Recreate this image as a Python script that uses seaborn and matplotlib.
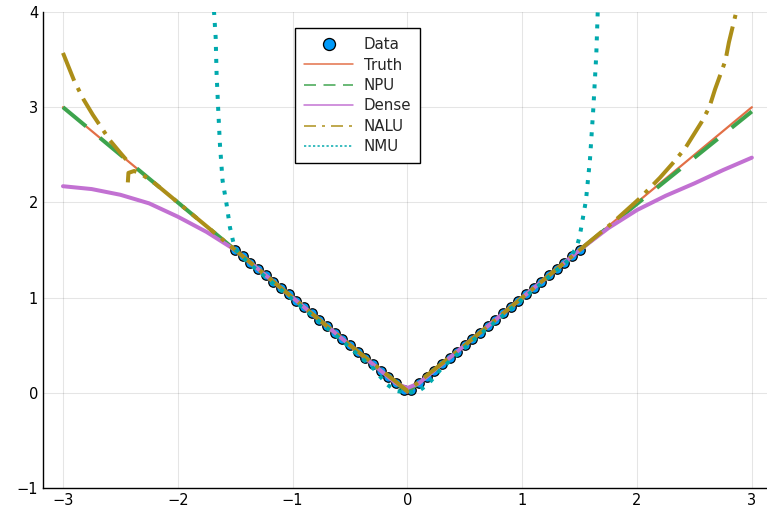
import numpy as np
import pandas as pd
import matplotlib
matplotlib.use("Agg")
import matplotlib.pyplot as plt
from matplotlib.lines import Line2D
import seaborn as sns

# ---------------- data ----------------
data_x = [-1.5, -1.4333, -1.3667, -1.3, -1.2333, -1.1667, -1.1, -1.0333, -0.9667, -0.9,
          -0.8333, -0.7667, -0.7, -0.6333, -0.5667, -0.5, -0.4333, -0.3667, -0.3, -0.2333,
          -0.1667, -0.1, -0.0333, 0.0333, 0.1, 0.1667, 0.2333, 0.3, 0.3667, 0.4333,
          0.5, 0.5667, 0.6333, 0.7, 0.7667, 0.8333, 0.9, 0.9667, 1.0333, 1.1,
          1.1667, 1.2333, 1.3, 1.3667, 1.4333, 1.5]
data_y = [1.5, 1.4333, 1.3667, 1.3, 1.2333, 1.1667, 1.1, 1.0333, 0.9667, 0.9,
          0.8333, 0.7667, 0.7, 0.6333, 0.5667, 0.5, 0.4333, 0.3667, 0.3, 0.2333,
          0.1667, 0.1, 0.0333, 0.0333, 0.1, 0.1667, 0.2333, 0.3, 0.3667, 0.4333,
          0.5, 0.5667, 0.6333, 0.7, 0.7667, 0.8333, 0.9, 0.9667, 1.0333, 1.1,
          1.1667, 1.2333, 1.3, 1.3667, 1.4333, 1.5]

truth_x = [-3.0, 0.0, 3.0]
truth_y = [3.0, 0.0, 3.0]

npu_x = [-3.0, -2.5, -2.0, -1.5, -1.0, -0.5, -0.1, 0.0, 0.1, 0.5, 1.0, 1.5, 2.0, 2.5, 3.0]
npu_y = [3.0, 2.5, 2.0, 1.5, 1.0, 0.5, 0.1, 0.02, 0.1, 0.5, 1.0, 1.5, 1.985, 2.47, 2.955]

dense_x = [-3.0, -2.75, -2.5, -2.25, -2.0, -1.75, -1.5, -1.0, -0.5, -0.2, -0.1, 0.0,
           0.1, 0.2, 0.5, 1.0, 1.5, 1.75, 2.0, 2.25, 2.5, 2.75, 3.0]
dense_y = [2.17, 2.14, 2.08, 1.99, 1.85, 1.69, 1.5, 1.0, 0.5, 0.2, 0.1, 0.05,
           0.1, 0.2, 0.5, 1.0, 1.5, 1.73, 1.92, 2.07, 2.2, 2.34, 2.47]

nalu_left_x = [-3.0, -2.9, -2.82, -2.74, -2.59, -2.5, -2.45]
nalu_left_y = [3.57, 3.27, 3.08, 2.92, 2.65, 2.52, 2.45]
nalu_x = [-2.435, -2.43, -2.38, -2.32, -2.2, -2.0, -1.5, -1.0, -0.5, 0.0, 0.5, 1.0,
          1.5, 1.8, 2.03, 2.2, 2.31, 2.42, 2.56, 2.63, 2.68, 2.77, 2.8, 2.86, 2.9]
nalu_y = [2.21, 2.31, 2.33, 2.3, 2.2, 2.0, 1.5, 1.0, 0.5, 0.02, 0.5, 1.0,
          1.5, 1.8, 2.05, 2.26, 2.41, 2.57, 2.84, 3.0, 3.19, 3.49, 3.68, 3.98, 4.2]

nmu_x = [-1.70, -1.67, -1.662, -1.648, -1.633, -1.61, -1.575, -1.546, -1.52, -1.5, -1.4,
         -1.0, -0.6, -0.3, -0.18, -0.1, 0.0, 0.1, 0.18, 0.3, 0.6, 1.0, 1.4,
         1.474, 1.50, 1.555, 1.59, 1.62, 1.645, 1.657, 1.67]
nmu_y = [4.3, 3.73, 3.35, 2.98, 2.61, 2.23, 1.98, 1.74, 1.6, 1.51, 1.38,
         0.98, 0.58, 0.26, 0.09, 0.02, 0.0, 0.02, 0.09, 0.26, 0.58, 0.98, 1.39,
         1.53, 1.64, 2.02, 2.45, 3.0, 3.55, 3.98, 4.3]

labels = ["Data", "Truth", "NPU", "Dense", "NALU", "NMU"]
colors = ["#009AF9", "#E26F46", "#3DA44D", "#C271D2", "#AC8E18", "#00A9AD"]

xticks = [-3, -2, -1, 0, 1, 2, 3]
yticks = [-1, 0, 1, 2, 3, 4]

# ---------------- plot ----------------
sns.set_style("white")
plt.rcParams["font.family"] = ["DejaVu Sans"]

W, H = 767, 515
fig = plt.figure(figsize=(W / 100, H / 100), dpi=100)
ax = fig.add_axes([43 / W, (H - 488) / H, (W - 43) / W, 476 / H])

px = 72 / 100  # points per pixel
lw_thick = 4 * px
lw_thin = 2.2 * px

sns.scatterplot(x=data_x, y=data_y, ax=ax, color=colors[0], s=(9.5 * px) ** 2,
                edgecolor="black", linewidth=1.2 * px, zorder=2, legend=False)

def line(x, y, color, lw, ls, z):
    sns.lineplot(x=x, y=y, ax=ax, color=color, linewidth=lw, linestyle=ls,
                 sort=False, estimator=None, legend=False, zorder=z)

line(truth_x, truth_y, colors[1], lw_thin, "-", 3)
line(npu_x, npu_y, colors[2], lw_thick, (0, (7.5, 4.5)), 4)
line(dense_x, dense_y, colors[3], lw_thick, "-", 5)
line(nalu_left_x, nalu_left_y, colors[4], lw_thick, (0, (7.5, 2.0, 1.0, 2.0)), 6)
line(nalu_x, nalu_y, colors[4], lw_thick, (3, (7.5, 2.0, 1.0, 2.0)), 6)
line(nmu_x, nmu_y, colors[5], lw_thick, (0, (1.0, 2.0)), 7)

for l in ax.get_lines():
    l.set_dash_capstyle("butt")

ax.set_xlim(-3.174, 3.132)
ax.set_ylim(-1, 4)
ax.set_xticks(xticks)
ax.set_yticks(yticks)
ax.tick_params(direction="in", length=5, width=1, labelsize=10.5, colors="black")
ax.grid(True, color="#000000", alpha=0.1, linewidth=0.75)
for s in ["top", "right"]:
    ax.spines[s].set_visible(False)
for s in ["left", "bottom"]:
    ax.spines[s].set_color("black")
    ax.spines[s].set_linewidth(1.0)

handles = [
    Line2D([], [], marker="o", linestyle="none", markerfacecolor=colors[0],
           markeredgecolor="black", markersize=12 * px, markeredgewidth=1.3 * px),
    Line2D([], [], color=colors[1], lw=1.5 * px),
    Line2D([], [], color=colors[2], lw=1.5 * px, linestyle=(0, (8, 5))),
    Line2D([], [], color=colors[3], lw=1.5 * px),
    Line2D([], [], color=colors[4], lw=1.5 * px, linestyle=(0, (8, 4, 2, 4))),
    Line2D([], [], color=colors[5], lw=1.5 * px, linestyle=(0, (1.5, 1.5))),
]
leg = ax.legend(handles, labels, loc="upper left", bbox_to_anchor=(0.348, 0.966),
                fontsize=10.8, frameon=True, fancybox=False, edgecolor="black",
                framealpha=1, handlelength=3.3, labelspacing=0.36, borderpad=0.6,
                handletextpad=0.7, borderaxespad=0)
leg.get_frame().set_linewidth(1.0)

fig.savefig("out.png", dpi=100)
